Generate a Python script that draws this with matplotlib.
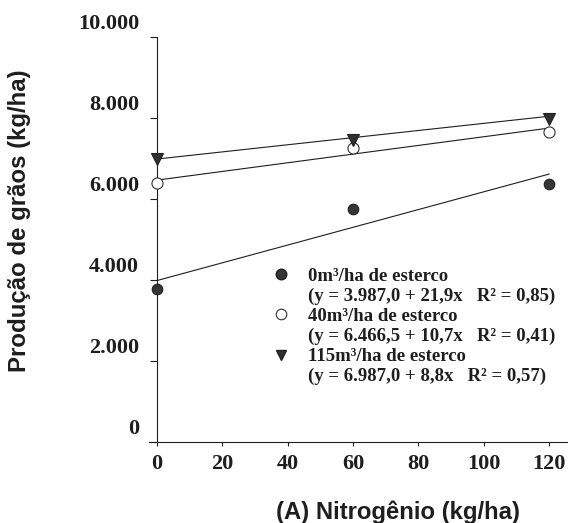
import matplotlib
matplotlib.use("Agg")
import matplotlib.pyplot as plt
import matplotlib.transforms as mtransforms
from matplotlib.lines import Line2D
import numpy as np

# dados
nitrogenio = [0, 60, 120]
esterco_0 = [3785, 5746, 6363]
esterco_40 = [6402, 7252, 7647]
esterco_115 = [6975, 7444, 7975]

# coeficientes das regressoes (intercepto, inclinacao)
reg_0 = (3987.0, 21.9)
reg_40 = (6466.5, 10.7)
reg_115 = (6987.0, 8.8)

labels = [
    "0m³/ha de esterco", "(y = 3.987,0 + 21,9x   R² = 0,85)",
    "40m³/ha de esterco", "(y = 6.466,5 + 10,7x   R² = 0,41)",
    "115m³/ha de esterco", "(y = 6.987,0 + 8,8x   R² = 0,57)",
]

x_ticks = [0, 20, 40, 60, 80, 100, 120]
y_ticks = [0, 2000, 4000, 6000, 8000, 10000]
y_tick_labels = ["0", "2.000", "4.000", "6.000", "8.000", "10.000"]

serif = "Liberation Serif"
sans = "Liberation Sans"
ink = "#1e1e1e"

fig = plt.figure(figsize=(5.68, 5.23), dpi=100)
ax = fig.add_axes([0.2623, 0.1549, 0.736, 0.7744])

x_line = np.array([0, 120])
for (a, b) in (reg_0, reg_40, reg_115):
    ax.plot(x_line, a + b * x_line, color=ink, lw=0.8, zorder=2)

ax.plot(nitrogenio, esterco_0, "o", ms=7.6, mfc="#353535", mec="#202020", mew=0.8, zorder=3)
ax.plot(nitrogenio, esterco_40, "o", ms=8.0, mfc="white", mec="#303030", mew=0.8, zorder=3)
ax.plot(nitrogenio, esterco_115, "v", ms=8.0, mfc="#303030", mec="#202020", mew=0.8, zorder=3)

ax.set_xlim(-2.5, 125.5)
ax.set_ylim(0, 10000)
ax.spines["left"].set_position(("data", 0))
ax.spines["top"].set_visible(False)
ax.spines["right"].set_visible(False)
for s in ("left", "bottom"):
    ax.spines[s].set_color(ink)
    ax.spines[s].set_linewidth(0.8)

ax.set_xticks(x_ticks)
ax.set_xticklabels([str(t) for t in x_ticks], fontfamily=serif, fontweight="bold",
                   fontsize=16, color=ink)
ax.set_yticks(y_ticks)
ax.set_yticklabels(y_tick_labels, fontfamily=serif, fontweight="bold",
                   fontsize=16, color=ink)
ax.tick_params(axis="x", direction="out", length=3, width=0.8, pad=6, colors=ink)
ax.tick_params(axis="y", direction="out", length=5, width=0.8, pad=8, colors=ink)

# rotulos do eixo y ficam acima das marcas
shift = mtransforms.ScaledTranslation(0, 0.15, fig.dpi_scale_trans)
for lab in ax.get_yticklabels():
    lab.set_transform(lab.get_transform() + shift)

ax.set_xlabel("(A) Nitrogênio (kg/ha)", fontfamily=sans, fontweight="bold",
              fontsize=17.2, color=ink)
ax.xaxis.set_label_coords(0.596, -0.173)
ax.xaxis.label.set_va("center")
ax.set_ylabel("Produção de grãos (kg/ha)", fontfamily=sans, fontweight="bold",
              fontsize=17.3, color=ink)
ax.yaxis.set_label_coords(-0.309, 0.546)
ax.yaxis.label.set_va("center")

blank = Line2D([], [], linestyle="none")
handles = [
    Line2D([], [], marker="o", linestyle="none", ms=7.6, mfc="#353535", mec="#202020"),
    blank,
    Line2D([], [], marker="o", linestyle="none", ms=7.6, mfc="white", mec="#303030", mew=0.8),
    blank,
    Line2D([], [], marker="v", linestyle="none", ms=7.6, mfc="#303030", mec="#202020"),
    blank,
]
ax.legend(handles, labels, loc="center left", bbox_to_anchor=(0.2705, 0.285),
          frameon=False, handlelength=1.0, handletextpad=0.95, borderpad=0,
          labelspacing=0.15, prop={"family": serif, "weight": "bold", "size": 13.5},
          labelcolor=ink)

fig.savefig("out.png", dpi=100)
